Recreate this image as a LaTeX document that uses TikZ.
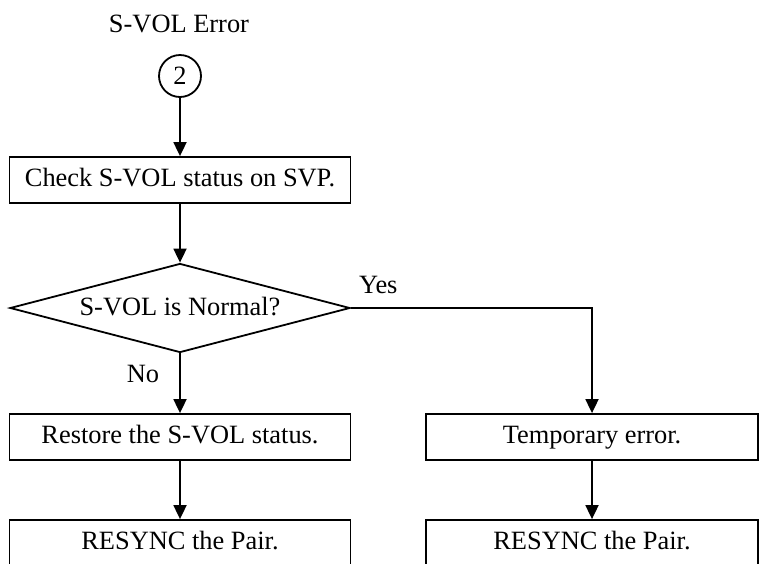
\documentclass[tikz,border=0pt]{standalone}
\usepackage{fontspec}
\setmainfont{Liberation Serif}
\usetikzlibrary{shapes.geometric,arrows.meta}
\begin{document}
\begin{tikzpicture}[x=1pt,y=-1pt,
  every node/.style={font=\fontsize{26.4}{30}\selectfont, inner sep=0pt},
  txt/.style={text height=18pt, text depth=6pt},
  procbox/.style={draw, line width=1.8pt, rectangle, minimum height=46pt, txt},
  decbox/.style={draw, line width=1.8pt, diamond, aspect=3.82, minimum width=340pt, minimum height=89pt, text height=18pt, text depth=3pt},
  conn/.style={draw, circle, line width=1.8pt, minimum size=42pt},
  arr/.style={line width=1.8pt, -{Triangle[length=14pt,width=13pt]}}]
\useasboundingbox (0,0) rectangle (759,563);
\clip (0,0) rectangle (759,563);
\fill[white] (0,0) rectangle (759,563);

\node (title) at (179,24) {S-VOL Error};
\node[conn] (c2) at (180,76) {2};
\node[procbox, minimum width=341pt] (check) at (180,180) {Check S-VOL status on SVP.};
\node[decbox] (dec) at (180,308) {S-VOL is Normal?};
\node[procbox, minimum width=341pt] (restore) at (180,437) {Restore the S-VOL status.};
\node[procbox, minimum width=332pt] (temp) at (592,437) {Temporary error.};
\node[procbox, minimum width=341pt] (resyncL) at (180,543) {RESYNC the Pair.};
\node[procbox, minimum width=332pt] (resyncR) at (592,543) {RESYNC the Pair.};

\draw[arr] (c2.south) -- (check.north);
\draw[arr] (check.south) -- (dec.north);
\draw[arr] (dec.south) -- node[pos=0.35, anchor=east, xshift=-20pt] {No} (restore.north);
\draw[arr] (dec.east) -| (temp.north);
\node[anchor=south west, xshift=8pt, yshift=14pt] (yes) at (dec.east) {Yes};
\draw[arr] (restore.south) -- (resyncL.north);
\draw[arr] (temp.south) -- (resyncR.north);
\end{tikzpicture}
\end{document}
